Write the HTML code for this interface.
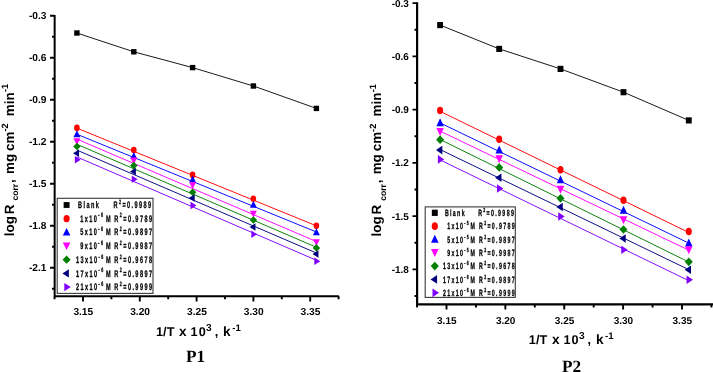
<!DOCTYPE html>
<html lang="en">
<head>
<meta charset="utf-8">
<title>Arrhenius plots P1 and P2</title>
<style>
html,body{margin:0;padding:0;background:#fff;}
body{width:713px;height:372px;overflow:hidden;font-family:'Liberation Sans', Arial, Helvetica, sans-serif;}
svg{display:block;will-change:transform;}
</style>
</head>
<body>
<svg width="713" height="372" viewBox="0 0 713 372" font-family="'Liberation Sans', Arial, Helvetica, sans-serif" fill="#000" text-rendering="geometricPrecision">
<rect width="713" height="372" fill="#fff"/>
<g id="p1">
<path d="M54.65,15.00 V296.30 H338.90" fill="none" stroke="#000" stroke-width="2.0"/>
<path d="M50.05,15.80 H54.65 M50.05,57.80 H54.65 M50.05,99.80 H54.65 M50.05,141.80 H54.65 M50.05,183.80 H54.65 M50.05,225.80 H54.65 M50.05,267.80 H54.65 M52.05,36.80 H54.65 M52.05,78.80 H54.65 M52.05,120.80 H54.65 M52.05,162.80 H54.65 M52.05,204.80 H54.65 M52.05,246.80 H54.65 M52.05,288.80 H54.65 M83.00,296.30 V301.50 M139.80,296.30 V301.50 M196.60,296.30 V301.50 M253.40,296.30 V301.50 M310.20,296.30 V301.50 M54.60,296.30 V299.30 M111.40,296.30 V299.30 M168.20,296.30 V299.30 M225.00,296.30 V299.30 M281.80,296.30 V299.30 M338.60,296.30 V299.30" fill="none" stroke="#000" stroke-width="1.9"/>
<text x="46.45" y="19.30" text-anchor="end" font-size="10.2" font-weight="bold">-0.3</text>
<text x="46.45" y="61.30" text-anchor="end" font-size="10.2" font-weight="bold">-0.6</text>
<text x="46.45" y="103.30" text-anchor="end" font-size="10.2" font-weight="bold">-0.9</text>
<text x="46.45" y="145.30" text-anchor="end" font-size="10.2" font-weight="bold">-1.2</text>
<text x="46.45" y="187.30" text-anchor="end" font-size="10.2" font-weight="bold">-1.5</text>
<text x="46.45" y="229.30" text-anchor="end" font-size="10.2" font-weight="bold">-1.8</text>
<text x="46.45" y="271.30" text-anchor="end" font-size="10.2" font-weight="bold">-2.1</text>
<text x="83.30" y="314.80" text-anchor="middle" font-size="10.2" font-weight="bold">3.15</text>
<text x="140.10" y="314.80" text-anchor="middle" font-size="10.2" font-weight="bold">3.20</text>
<text x="196.90" y="314.80" text-anchor="middle" font-size="10.2" font-weight="bold">3.25</text>
<text x="253.70" y="314.80" text-anchor="middle" font-size="10.2" font-weight="bold">3.30</text>
<text x="310.50" y="314.80" text-anchor="middle" font-size="10.2" font-weight="bold">3.35</text>
<polyline points="76.90,33.00 133.80,51.80 192.60,67.60 253.40,86.00 316.40,108.40" fill="none" stroke="#1a1a1a" stroke-width="1"/>
<line x1="76.90" y1="128.13" x2="316.40" y2="225.85" stroke="#ff0000" stroke-width="0.95"/>
<line x1="76.90" y1="134.25" x2="316.40" y2="232.01" stroke="#0000ff" stroke-width="0.95"/>
<line x1="76.90" y1="139.13" x2="316.40" y2="241.51" stroke="#ff00ff" stroke-width="0.95"/>
<line x1="76.90" y1="144.29" x2="316.40" y2="247.28" stroke="#008000" stroke-width="0.95"/>
<line x1="76.90" y1="150.11" x2="316.40" y2="253.03" stroke="#000080" stroke-width="0.95"/>
<line x1="76.90" y1="156.94" x2="316.40" y2="260.25" stroke="#8000ff" stroke-width="0.95"/>
<rect x="74.20" y="30.30" width="5.40" height="5.40" fill="#000000"/>
<rect x="131.10" y="49.10" width="5.40" height="5.40" fill="#000000"/>
<rect x="189.90" y="64.90" width="5.40" height="5.40" fill="#000000"/>
<rect x="250.70" y="83.30" width="5.40" height="5.40" fill="#000000"/>
<rect x="313.70" y="105.70" width="5.40" height="5.40" fill="#000000"/>
<ellipse cx="76.90" cy="127.90" rx="2.80" ry="3.30" fill="#ff0000"/>
<ellipse cx="133.80" cy="150.10" rx="2.80" ry="3.30" fill="#ff0000"/>
<ellipse cx="192.60" cy="174.90" rx="2.80" ry="3.30" fill="#ff0000"/>
<ellipse cx="253.40" cy="198.70" rx="2.80" ry="3.30" fill="#ff0000"/>
<ellipse cx="316.40" cy="225.70" rx="2.80" ry="3.30" fill="#ff0000"/>
<polygon points="76.90,130.34 80.35,137.34 73.45,137.34" fill="#0000ff"/>
<polygon points="133.80,152.04 137.25,159.04 130.35,159.04" fill="#0000ff"/>
<polygon points="192.60,175.54 196.05,182.54 189.15,182.54" fill="#0000ff"/>
<polygon points="253.40,200.64 256.85,207.64 249.95,207.64" fill="#0000ff"/>
<polygon points="316.40,228.14 319.85,235.14 312.95,235.14" fill="#0000ff"/>
<polygon points="76.90,145.14 80.35,138.14 73.45,138.14" fill="#ff00ff"/>
<polygon points="133.80,164.44 137.25,157.44 130.35,157.44" fill="#ff00ff"/>
<polygon points="192.60,189.14 196.05,182.14 189.15,182.14" fill="#ff00ff"/>
<polygon points="253.40,217.64 256.85,210.64 249.95,210.64" fill="#ff00ff"/>
<polygon points="316.40,246.34 319.85,239.34 312.95,239.34" fill="#ff00ff"/>
<polygon points="76.90,142.70 80.60,146.50 76.90,150.30 73.20,146.50" fill="#008000"/>
<polygon points="133.80,161.80 137.50,165.60 133.80,169.40 130.10,165.60" fill="#008000"/>
<polygon points="192.60,188.50 196.30,192.30 192.60,196.10 188.90,192.30" fill="#008000"/>
<polygon points="253.40,216.20 257.10,220.00 253.40,223.80 249.70,220.00" fill="#008000"/>
<polygon points="316.40,244.10 320.10,247.90 316.40,251.70 312.70,247.90" fill="#008000"/>
<polygon points="73.07,153.20 78.97,149.45 78.97,156.95" fill="#000080"/>
<polygon points="129.97,171.50 135.87,167.75 135.87,175.25" fill="#000080"/>
<polygon points="188.76,197.90 194.66,194.15 194.66,201.65" fill="#000080"/>
<polygon points="249.56,226.90 255.47,223.15 255.47,230.65" fill="#000080"/>
<polygon points="312.56,254.00 318.46,250.25 318.46,257.75" fill="#000080"/>
<polygon points="80.73,159.80 74.84,156.05 74.84,163.55" fill="#8000ff"/>
<polygon points="137.64,179.20 131.74,175.45 131.74,182.95" fill="#8000ff"/>
<polygon points="196.44,205.60 190.53,201.85 190.53,209.35" fill="#8000ff"/>
<polygon points="257.24,234.20 251.34,230.45 251.34,237.95" fill="#8000ff"/>
<polygon points="320.23,261.30 314.33,257.55 314.33,265.05" fill="#8000ff"/>
<rect x="57.20" y="198.30" width="95.80" height="95.10" fill="#fff" stroke="#3a3a3a" stroke-width="1.1"/>
<rect x="63.63" y="202.08" width="5.94" height="5.83" fill="#000000"/>
<text transform="translate(78.00,208.10) scale(0.58,1)" text-anchor="start" font-size="9.6" font-weight="bold" letter-spacing="2.45" fill="#000" stroke="#000" stroke-width="0.3" stroke-linejoin="round">Blank</text>
<text transform="translate(113.50,208.10) scale(0.58,1)" text-anchor="start" font-size="9.6" font-weight="bold" letter-spacing="2.45" fill="#000" stroke="#000" stroke-width="0.3" stroke-linejoin="round">R<tspan dy="-4.32" font-size="6.34">2</tspan><tspan dy="4.32">&#8203;</tspan>=0.9989</text>
<ellipse cx="66.60" cy="218.68" rx="3.08" ry="3.56" fill="#ff0000"/>
<text transform="translate(80.30,221.78) scale(0.58,1)" text-anchor="start" font-size="9.6" font-weight="bold" letter-spacing="2.45" fill="#000" stroke="#000" stroke-width="0.3" stroke-linejoin="round">1x10<tspan dy="-4.32" font-size="6.34">-6</tspan><tspan dy="4.32">&#8203;</tspan></text>
<text transform="translate(105.90,221.78) scale(0.58,1)" text-anchor="start" font-size="9.6" font-weight="bold" letter-spacing="2.45" fill="#000" stroke="#000" stroke-width="0.3" stroke-linejoin="round">M</text>
<text transform="translate(114.30,221.78) scale(0.58,1)" text-anchor="start" font-size="9.6" font-weight="bold" letter-spacing="2.45" fill="#000" stroke="#000" stroke-width="0.3" stroke-linejoin="round">R<tspan dy="-4.32" font-size="6.34">2</tspan><tspan dy="4.32">&#8203;</tspan>=0.9789</text>
<polygon points="66.60,227.98 70.39,235.54 62.80,235.54" fill="#0000ff"/>
<text transform="translate(80.30,235.46) scale(0.58,1)" text-anchor="start" font-size="9.6" font-weight="bold" letter-spacing="2.45" fill="#000" stroke="#000" stroke-width="0.3" stroke-linejoin="round">5x10<tspan dy="-4.32" font-size="6.34">-6</tspan><tspan dy="4.32">&#8203;</tspan></text>
<text transform="translate(105.90,235.46) scale(0.58,1)" text-anchor="start" font-size="9.6" font-weight="bold" letter-spacing="2.45" fill="#000" stroke="#000" stroke-width="0.3" stroke-linejoin="round">M</text>
<text transform="translate(114.30,235.46) scale(0.58,1)" text-anchor="start" font-size="9.6" font-weight="bold" letter-spacing="2.45" fill="#000" stroke="#000" stroke-width="0.3" stroke-linejoin="round">R<tspan dy="-4.32" font-size="6.34">2</tspan><tspan dy="4.32">&#8203;</tspan>=0.9897</text>
<polygon points="66.60,249.97 70.39,242.41 62.80,242.41" fill="#ff00ff"/>
<text transform="translate(80.30,249.14) scale(0.58,1)" text-anchor="start" font-size="9.6" font-weight="bold" letter-spacing="2.45" fill="#000" stroke="#000" stroke-width="0.3" stroke-linejoin="round">9x10<tspan dy="-4.32" font-size="6.34">-6</tspan><tspan dy="4.32">&#8203;</tspan></text>
<text transform="translate(105.90,249.14) scale(0.58,1)" text-anchor="start" font-size="9.6" font-weight="bold" letter-spacing="2.45" fill="#000" stroke="#000" stroke-width="0.3" stroke-linejoin="round">M</text>
<text transform="translate(114.30,249.14) scale(0.58,1)" text-anchor="start" font-size="9.6" font-weight="bold" letter-spacing="2.45" fill="#000" stroke="#000" stroke-width="0.3" stroke-linejoin="round">R<tspan dy="-4.32" font-size="6.34">2</tspan><tspan dy="4.32">&#8203;</tspan>=0.9987</text>
<polygon points="66.60,255.62 70.67,259.72 66.60,263.82 62.53,259.72" fill="#008000"/>
<text transform="translate(75.90,262.82) scale(0.58,1)" text-anchor="start" font-size="9.6" font-weight="bold" letter-spacing="2.45" fill="#000" stroke="#000" stroke-width="0.3" stroke-linejoin="round">13x10<tspan dy="-4.32" font-size="6.34">-6</tspan><tspan dy="4.32">&#8203;</tspan></text>
<text transform="translate(105.90,262.82) scale(0.58,1)" text-anchor="start" font-size="9.6" font-weight="bold" letter-spacing="2.45" fill="#000" stroke="#000" stroke-width="0.3" stroke-linejoin="round">M</text>
<text transform="translate(114.30,262.82) scale(0.58,1)" text-anchor="start" font-size="9.6" font-weight="bold" letter-spacing="2.45" fill="#000" stroke="#000" stroke-width="0.3" stroke-linejoin="round">R<tspan dy="-4.32" font-size="6.34">2</tspan><tspan dy="4.32">&#8203;</tspan>=0.9678</text>
<polygon points="62.38,273.40 68.87,269.35 68.87,277.45" fill="#000080"/>
<text transform="translate(75.90,276.50) scale(0.58,1)" text-anchor="start" font-size="9.6" font-weight="bold" letter-spacing="2.45" fill="#000" stroke="#000" stroke-width="0.3" stroke-linejoin="round">17x10<tspan dy="-4.32" font-size="6.34">-6</tspan><tspan dy="4.32">&#8203;</tspan></text>
<text transform="translate(105.90,276.50) scale(0.58,1)" text-anchor="start" font-size="9.6" font-weight="bold" letter-spacing="2.45" fill="#000" stroke="#000" stroke-width="0.3" stroke-linejoin="round">M</text>
<text transform="translate(114.30,276.50) scale(0.58,1)" text-anchor="start" font-size="9.6" font-weight="bold" letter-spacing="2.45" fill="#000" stroke="#000" stroke-width="0.3" stroke-linejoin="round">R<tspan dy="-4.32" font-size="6.34">2</tspan><tspan dy="4.32">&#8203;</tspan>=0.9897</text>
<polygon points="70.82,287.08 64.33,283.03 64.33,291.13" fill="#8000ff"/>
<text transform="translate(75.90,290.18) scale(0.58,1)" text-anchor="start" font-size="9.6" font-weight="bold" letter-spacing="2.45" fill="#000" stroke="#000" stroke-width="0.3" stroke-linejoin="round">21x10<tspan dy="-4.32" font-size="6.34">-6</tspan><tspan dy="4.32">&#8203;</tspan></text>
<text transform="translate(105.90,290.18) scale(0.58,1)" text-anchor="start" font-size="9.6" font-weight="bold" letter-spacing="2.45" fill="#000" stroke="#000" stroke-width="0.3" stroke-linejoin="round">M</text>
<text transform="translate(114.30,290.18) scale(0.58,1)" text-anchor="start" font-size="9.6" font-weight="bold" letter-spacing="2.45" fill="#000" stroke="#000" stroke-width="0.3" stroke-linejoin="round">R<tspan dy="-4.32" font-size="6.34">2</tspan><tspan dy="4.32">&#8203;</tspan>=0.9999</text>
<text transform="translate(13.50,0) rotate(-90) scale(1.0,1)" font-weight="bold"><tspan x="-236.20" y="0.00" font-size="13.4">log</tspan><tspan x="-214.30" y="0.00" font-size="13.4">R</tspan><tspan x="-200.50" y="4.70" font-size="8.6">corr</tspan><tspan x="-182.90" y="0.00" font-size="13.4">,</tspan><tspan x="-174.00" y="0.00" font-size="13.4">mg</tspan><tspan x="-150.90" y="0.00" font-size="13.4">cm</tspan><tspan x="-131.60" y="-5.60" font-size="9.2">-2</tspan><tspan x="-116.20" y="0.00" font-size="13.4">min</tspan><tspan x="-92.00" y="-5.60" font-size="9.2">-1</tspan></text>
<text font-weight="bold"><tspan x="155.90" y="336.20" font-size="12.7" letter-spacing="0.1">1/T</tspan><tspan x="179.00" y="336.20" font-size="13.6">x</tspan><tspan x="190.50" y="336.20" font-size="12.7" letter-spacing="1.1">10</tspan><tspan x="206.10" y="330.70" font-size="10.2">3</tspan><tspan x="214.70" y="336.20" font-size="12.7">,</tspan><tspan x="223.00" y="336.20" font-size="13.6">k</tspan><tspan x="232.20" y="330.60" font-size="9.6">-1</tspan></text>
<text x="195.60" y="361.70" font-family="'Liberation Serif', 'Times New Roman', serif" font-size="17.2" font-weight="bold" text-anchor="middle">P1</text>
</g>
<g id="p2">
<path d="M417.10,2.30 V304.40 H713.40" fill="none" stroke="#000" stroke-width="2.2"/>
<path d="M412.50,3.10 H417.10 M412.50,56.35 H417.10 M412.50,109.60 H417.10 M412.50,162.85 H417.10 M412.50,216.10 H417.10 M412.50,269.35 H417.10 M414.50,29.72 H417.10 M414.50,82.97 H417.10 M414.50,136.22 H417.10 M414.50,189.47 H417.10 M414.50,242.72 H417.10 M414.50,295.97 H417.10 M446.50,304.40 V309.60 M505.37,304.40 V309.60 M564.25,304.40 V309.60 M623.12,304.40 V309.60 M682.00,304.40 V309.60 M417.06,304.40 V307.40 M475.93,304.40 V307.40 M534.81,304.40 V307.40 M593.68,304.40 V307.40 M652.56,304.40 V307.40 M711.43,304.40 V307.40" fill="none" stroke="#000" stroke-width="1.9"/>
<text x="408.90" y="6.70" text-anchor="end" font-size="10.0" font-weight="bold">-0.3</text>
<text x="408.90" y="59.95" text-anchor="end" font-size="10.0" font-weight="bold">-0.6</text>
<text x="408.90" y="113.20" text-anchor="end" font-size="10.0" font-weight="bold">-0.9</text>
<text x="408.90" y="166.45" text-anchor="end" font-size="10.0" font-weight="bold">-1.2</text>
<text x="408.90" y="219.70" text-anchor="end" font-size="10.0" font-weight="bold">-1.5</text>
<text x="408.90" y="272.95" text-anchor="end" font-size="10.0" font-weight="bold">-1.8</text>
<text x="446.80" y="323.70" text-anchor="middle" font-size="10.0" font-weight="bold">3.15</text>
<text x="505.67" y="323.70" text-anchor="middle" font-size="10.0" font-weight="bold">3.20</text>
<text x="564.55" y="323.70" text-anchor="middle" font-size="10.0" font-weight="bold">3.25</text>
<text x="623.42" y="323.70" text-anchor="middle" font-size="10.0" font-weight="bold">3.30</text>
<text x="682.30" y="323.70" text-anchor="middle" font-size="10.0" font-weight="bold">3.35</text>
<polyline points="440.10,25.10 499.20,48.90 560.50,68.90 623.50,92.20 688.80,120.40" fill="none" stroke="#1a1a1a" stroke-width="1"/>
<line x1="440.10" y1="111.33" x2="688.80" y2="232.49" stroke="#ff0000" stroke-width="0.95"/>
<line x1="440.10" y1="122.90" x2="688.80" y2="243.14" stroke="#0000ff" stroke-width="0.95"/>
<line x1="440.10" y1="131.13" x2="688.80" y2="250.21" stroke="#ff00ff" stroke-width="0.95"/>
<line x1="440.10" y1="139.47" x2="688.80" y2="262.01" stroke="#008000" stroke-width="0.95"/>
<line x1="440.10" y1="149.55" x2="688.80" y2="269.65" stroke="#000080" stroke-width="0.95"/>
<line x1="440.10" y1="159.93" x2="688.80" y2="280.70" stroke="#8000ff" stroke-width="0.95"/>
<rect x="437.18" y="22.02" width="5.83" height="6.16" fill="#000000"/>
<rect x="496.28" y="45.82" width="5.83" height="6.16" fill="#000000"/>
<rect x="557.58" y="65.82" width="5.83" height="6.16" fill="#000000"/>
<rect x="620.58" y="89.12" width="5.83" height="6.16" fill="#000000"/>
<rect x="685.88" y="117.32" width="5.83" height="6.16" fill="#000000"/>
<ellipse cx="440.10" cy="110.50" rx="3.02" ry="3.76" fill="#ff0000"/>
<ellipse cx="499.20" cy="139.20" rx="3.02" ry="3.76" fill="#ff0000"/>
<ellipse cx="560.50" cy="169.70" rx="3.02" ry="3.76" fill="#ff0000"/>
<ellipse cx="623.50" cy="200.30" rx="3.02" ry="3.76" fill="#ff0000"/>
<ellipse cx="688.80" cy="231.40" rx="3.02" ry="3.76" fill="#ff0000"/>
<polygon points="440.10,118.37 443.83,126.35 436.37,126.35" fill="#0000ff"/>
<polygon points="499.20,145.57 502.93,153.55 495.47,153.55" fill="#0000ff"/>
<polygon points="560.50,175.37 564.23,183.35 556.77,183.35" fill="#0000ff"/>
<polygon points="623.50,205.67 627.23,213.65 619.77,213.65" fill="#0000ff"/>
<polygon points="688.80,238.57 692.53,246.55 685.07,246.55" fill="#0000ff"/>
<polygon points="440.10,135.95 443.83,127.97 436.37,127.97" fill="#ff00ff"/>
<polygon points="499.20,163.35 502.93,155.37 495.47,155.37" fill="#ff00ff"/>
<polygon points="560.50,193.85 564.23,185.87 556.77,185.87" fill="#ff00ff"/>
<polygon points="623.50,224.25 627.23,216.27 619.77,216.27" fill="#ff00ff"/>
<polygon points="688.80,254.35 692.53,246.37 685.07,246.37" fill="#ff00ff"/>
<polygon points="440.10,135.37 444.10,139.70 440.10,144.03 436.10,139.70" fill="#008000"/>
<polygon points="499.20,163.07 503.20,167.40 499.20,171.73 495.20,167.40" fill="#008000"/>
<polygon points="560.50,193.97 564.50,198.30 560.50,202.63 556.50,198.30" fill="#008000"/>
<polygon points="623.50,225.17 627.50,229.50 623.50,233.83 619.50,229.50" fill="#008000"/>
<polygon points="688.80,257.47 692.80,261.80 688.80,266.13 684.80,261.80" fill="#008000"/>
<polygon points="435.96,150.10 442.33,145.82 442.33,154.38" fill="#000080"/>
<polygon points="495.06,177.70 501.43,173.42 501.43,181.97" fill="#000080"/>
<polygon points="556.36,207.00 562.73,202.72 562.73,211.28" fill="#000080"/>
<polygon points="619.36,238.50 625.73,234.22 625.73,242.78" fill="#000080"/>
<polygon points="684.66,269.80 691.03,265.53 691.03,274.07" fill="#000080"/>
<polygon points="444.24,159.40 437.87,155.12 437.87,163.68" fill="#8000ff"/>
<polygon points="503.34,188.50 496.97,184.22 496.97,192.78" fill="#8000ff"/>
<polygon points="564.64,216.50 558.27,212.22 558.27,220.78" fill="#8000ff"/>
<polygon points="627.64,249.80 621.27,245.53 621.27,254.08" fill="#8000ff"/>
<polygon points="692.94,279.70 686.57,275.43 686.57,283.97" fill="#8000ff"/>
<rect x="425.20" y="206.90" width="90.10" height="90.50" fill="#fff" stroke="#3a3a3a" stroke-width="1.1"/>
<rect x="431.83" y="209.67" width="5.94" height="6.26" fill="#000000"/>
<text transform="translate(444.90,216.00) scale(0.58,1)" text-anchor="start" font-size="9.1" font-weight="bold" letter-spacing="2.3" fill="#000" stroke="#000" stroke-width="0.3" stroke-linejoin="round">Blank</text>
<text transform="translate(478.20,216.00) scale(0.58,1)" text-anchor="start" font-size="9.1" font-weight="bold" letter-spacing="2.3" fill="#000" stroke="#000" stroke-width="0.3" stroke-linejoin="round">R<tspan dy="-4.09" font-size="6.01">2</tspan><tspan dy="4.09">&#8203;</tspan>=0.9989</text>
<ellipse cx="434.80" cy="226.13" rx="3.08" ry="3.83" fill="#ff0000"/>
<text transform="translate(447.20,229.33) scale(0.58,1)" text-anchor="start" font-size="9.1" font-weight="bold" letter-spacing="2.3" fill="#000" stroke="#000" stroke-width="0.3" stroke-linejoin="round">1x10<tspan dy="-4.09" font-size="6.01">-5</tspan><tspan dy="4.09">&#8203;</tspan></text>
<text transform="translate(470.50,229.33) scale(0.58,1)" text-anchor="start" font-size="9.1" font-weight="bold" letter-spacing="2.3" fill="#000" stroke="#000" stroke-width="0.3" stroke-linejoin="round">M</text>
<text transform="translate(479.00,229.33) scale(0.58,1)" text-anchor="start" font-size="9.1" font-weight="bold" letter-spacing="2.3" fill="#000" stroke="#000" stroke-width="0.3" stroke-linejoin="round">R<tspan dy="-4.09" font-size="6.01">2</tspan><tspan dy="4.09">&#8203;</tspan>=0.9789</text>
<polygon points="434.80,234.75 438.60,242.87 431.00,242.87" fill="#0000ff"/>
<text transform="translate(447.20,242.66) scale(0.58,1)" text-anchor="start" font-size="9.1" font-weight="bold" letter-spacing="2.3" fill="#000" stroke="#000" stroke-width="0.3" stroke-linejoin="round">5x10<tspan dy="-4.09" font-size="6.01">-5</tspan><tspan dy="4.09">&#8203;</tspan></text>
<text transform="translate(470.50,242.66) scale(0.58,1)" text-anchor="start" font-size="9.1" font-weight="bold" letter-spacing="2.3" fill="#000" stroke="#000" stroke-width="0.3" stroke-linejoin="round">M</text>
<text transform="translate(479.00,242.66) scale(0.58,1)" text-anchor="start" font-size="9.1" font-weight="bold" letter-spacing="2.3" fill="#000" stroke="#000" stroke-width="0.3" stroke-linejoin="round">R<tspan dy="-4.09" font-size="6.01">2</tspan><tspan dy="4.09">&#8203;</tspan>=0.9897</text>
<polygon points="434.80,257.01 438.60,248.89 431.00,248.89" fill="#ff00ff"/>
<text transform="translate(447.20,255.99) scale(0.58,1)" text-anchor="start" font-size="9.1" font-weight="bold" letter-spacing="2.3" fill="#000" stroke="#000" stroke-width="0.3" stroke-linejoin="round">9x10<tspan dy="-4.09" font-size="6.01">-5</tspan><tspan dy="4.09">&#8203;</tspan></text>
<text transform="translate(470.50,255.99) scale(0.58,1)" text-anchor="start" font-size="9.1" font-weight="bold" letter-spacing="2.3" fill="#000" stroke="#000" stroke-width="0.3" stroke-linejoin="round">M</text>
<text transform="translate(479.00,255.99) scale(0.58,1)" text-anchor="start" font-size="9.1" font-weight="bold" letter-spacing="2.3" fill="#000" stroke="#000" stroke-width="0.3" stroke-linejoin="round">R<tspan dy="-4.09" font-size="6.01">2</tspan><tspan dy="4.09">&#8203;</tspan>=0.9987</text>
<polygon points="434.80,261.71 438.87,266.12 434.80,270.53 430.73,266.12" fill="#008000"/>
<text transform="translate(442.90,269.32) scale(0.58,1)" text-anchor="start" font-size="9.1" font-weight="bold" letter-spacing="2.3" fill="#000" stroke="#000" stroke-width="0.3" stroke-linejoin="round">13x10<tspan dy="-4.09" font-size="6.01">-6</tspan><tspan dy="4.09">&#8203;</tspan></text>
<text transform="translate(470.50,269.32) scale(0.58,1)" text-anchor="start" font-size="9.1" font-weight="bold" letter-spacing="2.3" fill="#000" stroke="#000" stroke-width="0.3" stroke-linejoin="round">M</text>
<text transform="translate(479.00,269.32) scale(0.58,1)" text-anchor="start" font-size="9.1" font-weight="bold" letter-spacing="2.3" fill="#000" stroke="#000" stroke-width="0.3" stroke-linejoin="round">R<tspan dy="-4.09" font-size="6.01">2</tspan><tspan dy="4.09">&#8203;</tspan>=0.9678</text>
<polygon points="430.58,279.45 437.07,275.10 437.07,283.80" fill="#000080"/>
<text transform="translate(442.90,282.65) scale(0.58,1)" text-anchor="start" font-size="9.1" font-weight="bold" letter-spacing="2.3" fill="#000" stroke="#000" stroke-width="0.3" stroke-linejoin="round">17x10<tspan dy="-4.09" font-size="6.01">-6</tspan><tspan dy="4.09">&#8203;</tspan></text>
<text transform="translate(470.50,282.65) scale(0.58,1)" text-anchor="start" font-size="9.1" font-weight="bold" letter-spacing="2.3" fill="#000" stroke="#000" stroke-width="0.3" stroke-linejoin="round">M</text>
<text transform="translate(479.00,282.65) scale(0.58,1)" text-anchor="start" font-size="9.1" font-weight="bold" letter-spacing="2.3" fill="#000" stroke="#000" stroke-width="0.3" stroke-linejoin="round">R<tspan dy="-4.09" font-size="6.01">2</tspan><tspan dy="4.09">&#8203;</tspan>=0.9897</text>
<polygon points="439.02,292.78 432.53,288.43 432.53,297.13" fill="#8000ff"/>
<text transform="translate(442.90,295.98) scale(0.58,1)" text-anchor="start" font-size="9.1" font-weight="bold" letter-spacing="2.3" fill="#000" stroke="#000" stroke-width="0.3" stroke-linejoin="round">21x10<tspan dy="-4.09" font-size="6.01">-6</tspan><tspan dy="4.09">&#8203;</tspan></text>
<text transform="translate(470.50,295.98) scale(0.58,1)" text-anchor="start" font-size="9.1" font-weight="bold" letter-spacing="2.3" fill="#000" stroke="#000" stroke-width="0.3" stroke-linejoin="round">M</text>
<text transform="translate(479.00,295.98) scale(0.58,1)" text-anchor="start" font-size="9.1" font-weight="bold" letter-spacing="2.3" fill="#000" stroke="#000" stroke-width="0.3" stroke-linejoin="round">R<tspan dy="-4.09" font-size="6.01">2</tspan><tspan dy="4.09">&#8203;</tspan>=0.9999</text>
<text transform="translate(381.10,0) rotate(-90) scale(1.0,1)" font-weight="bold"><tspan x="-236.50" y="0.00" font-size="13.4">log</tspan><tspan x="-214.60" y="0.00" font-size="13.4">R</tspan><tspan x="-200.80" y="4.70" font-size="8.6">corr</tspan><tspan x="-183.20" y="0.00" font-size="13.4">,</tspan><tspan x="-174.30" y="0.00" font-size="13.4">mg</tspan><tspan x="-151.20" y="0.00" font-size="13.4">cm</tspan><tspan x="-131.90" y="-5.60" font-size="9.2">-2</tspan><tspan x="-116.50" y="0.00" font-size="13.4">min</tspan><tspan x="-92.30" y="-5.60" font-size="9.2">-1</tspan></text>
<text font-weight="bold"><tspan x="528.80" y="344.30" font-size="12.7" letter-spacing="0.1">1/T</tspan><tspan x="551.90" y="344.30" font-size="13.6">x</tspan><tspan x="563.40" y="344.30" font-size="12.7" letter-spacing="1.1">10</tspan><tspan x="579.00" y="338.80" font-size="10.2">3</tspan><tspan x="587.60" y="344.30" font-size="12.7">,</tspan><tspan x="595.90" y="344.30" font-size="13.6">k</tspan><tspan x="605.10" y="338.70" font-size="9.6">-1</tspan></text>
<text x="571.60" y="371.90" font-family="'Liberation Serif', 'Times New Roman', serif" font-size="17.2" font-weight="bold" text-anchor="middle">P2</text>
</g>
</svg>
</body>
</html>
